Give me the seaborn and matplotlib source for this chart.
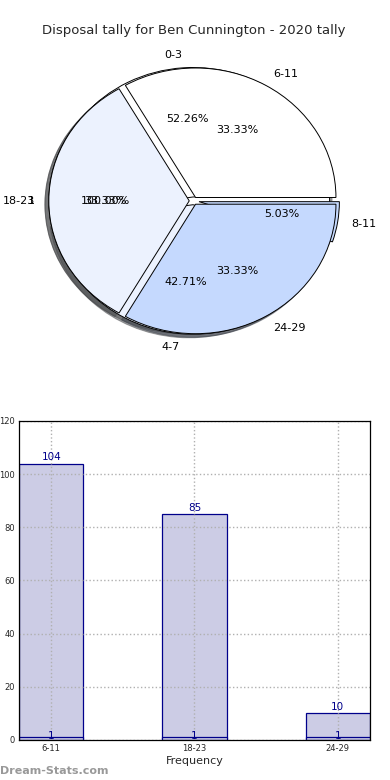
"""Disposal tally chart: stacked pies + frequency bars."""
import matplotlib
matplotlib.use("Agg")
import matplotlib.pyplot as plt
import seaborn as sns

TITLE = "Disposal tally for Ben Cunnington - 2020 tally"

# pie layers
ring_labels = ["6-11", "18-23", "24-29"]
ring_values = [1, 1, 1]
range_labels = ["0-3", "4-7", "8-11"]
range_values = [104, 85, 10]
single_labels = ["1"]
single_values = [1]

# bar chart
bar_cats = ["6-11", "18-23", "24-29"]
bar_values = [104, 85, 10]
base_values = [1, 1, 1]

PIE_COLORS = ["#ffffff", "#ecf2fe", "#c5d9fe"]
BAR_FILL = "#cccce5"
NAVY = "#00008b"


def main():
    sns.set_theme(style="white", context="paper")
    plt.rcParams["font.family"] = ["DejaVu Sans"]

    fig = plt.figure(figsize=(3.9, 7.8), dpi=100)

    # ---- pies ----
    ax = fig.add_axes([0.046, 0.535, 0.9, 0.415])
    wp = dict(edgecolor="black", linewidth=0.7)
    tp = dict(fontsize=8, color="black")
    ax.pie(single_values, labels=single_labels, autopct="%.2f%%", colors=["#ffffff"],
           explode=[0.03], shadow=True, wedgeprops=wp, textprops=tp)
    ax.pie(range_values, labels=range_labels, autopct="%.2f%%", colors=PIE_COLORS,
           explode=[0.03, 0.03, 0.04], shadow=True, wedgeprops=wp, textprops=tp)
    ax.pie(ring_values, labels=ring_labels, autopct="%.2f%%", colors=PIE_COLORS,
           explode=[0.03, 0.03, 0.03], shadow=True, wedgeprops=wp, textprops=tp)
    ax.set_aspect("auto")
    ax.set_xlim(-1.25, 1.25)
    ax.set_ylim(-1.25, 1.25)
    ax.set_title(TITLE, fontsize=9.5, pad=3.5)

    # ---- bars ----
    bx = fig.add_axes([0.0487, 0.0513, 0.9, 0.409])
    sns.barplot(x=bar_cats, y=bar_values, width=0.45, color=BAR_FILL, saturation=1,
                edgecolor=NAVY, linewidth=0.9, ax=bx)
    sns.barplot(x=bar_cats, y=base_values, width=0.45, color=BAR_FILL, saturation=1,
                edgecolor=NAVY, linewidth=0.9, ax=bx)
    bx.bar_label(bx.containers[0], fmt="%d", color=NAVY, fontsize=7.5, padding=1)
    bx.bar_label(bx.containers[1], fmt="%d", color=NAVY, fontsize=7.5, padding=-3)
    bx.set_xlim(-0.225, 2.225)
    bx.set_ylim(0, 120)
    bx.set_yticks(range(0, 121, 20))
    bx.tick_params(labelsize=6, length=2, pad=1)
    bx.grid(True, linestyle=":", color="#b0b0b0", linewidth=1)
    bx.set_axisbelow(False)
    for s in bx.spines.values():
        s.set_color("black")
        s.set_linewidth(0.9)
        s.set_zorder(5)
    bx.set_xlabel("Frequency", fontsize=8, labelpad=2)

    fig.text(0.0, 0.008, "Dream-Stats.com", fontsize=8, fontweight="bold", color="#999999")

    fig.savefig("out.png", dpi=100)
    plt.close(fig)


if __name__ == "__main__":
    main()
